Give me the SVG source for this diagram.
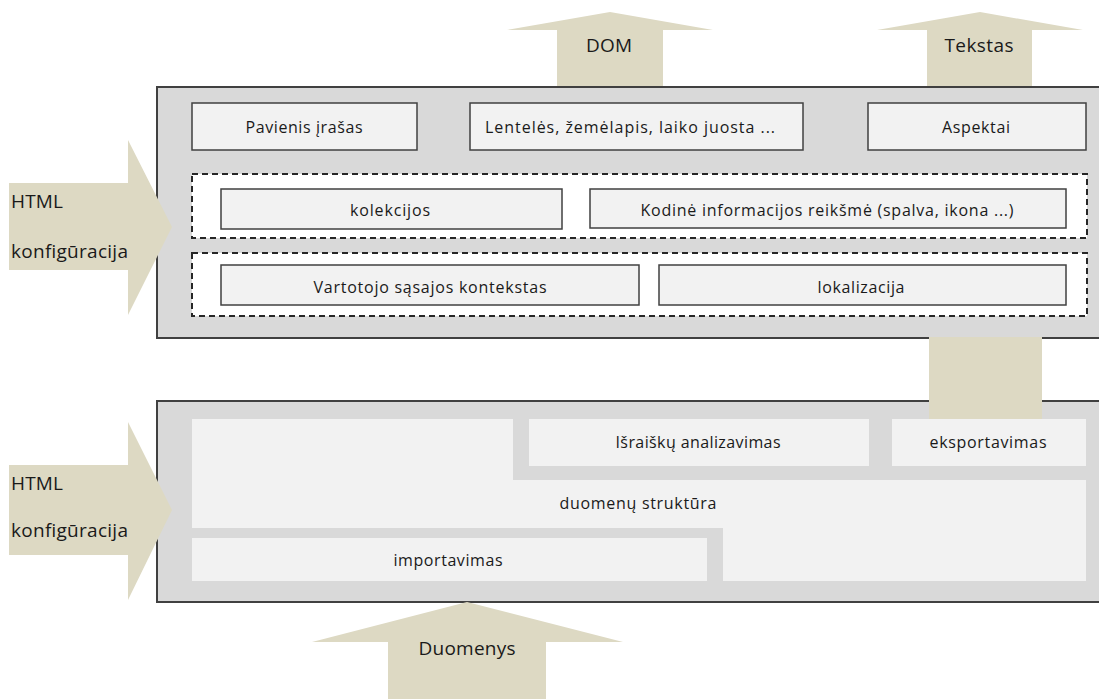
<svg xmlns="http://www.w3.org/2000/svg" width="1099" height="699" viewBox="0 0 1099 699">
  <style>
    .frame { fill: #d9d9d9; stroke: #404040; stroke-width: 2; }
    .cell { fill: #f2f2f2; stroke: #404040; stroke-width: 1.5; }
    .flat { fill: #f2f2f2; stroke: none; }
    .group { fill: #ffffff; stroke: #262626; stroke-width: 2; stroke-dasharray: 6 4; }
    .flow { fill: #ddd9c3; stroke: none; }
    text { font-family: "Open Sans", "Noto Sans", "Liberation Sans", sans-serif; fill: #1a1a1a; }
    .lbl { font-size: 16px; text-anchor: middle; dominant-baseline: central; }
    .big { font-size: 19px; dominant-baseline: central; }
    .bigc { font-size: 19px; text-anchor: middle; dominant-baseline: central; }
  </style>

  <!-- outputs leaving the presentation layer (drawn under the frame) -->
  <g id="connectors">
    <g id="arrow-dom">
      <polygon class="flow" points="557,87 557,30 507,30 610,12 713,30 663,30 663,87"/>
      <text class="bigc" x="609" y="45" textLength="46">DOM</text>
    </g>
    <g id="arrow-tekstas">
      <polygon class="flow" points="927,87 927,30 877,30 980,12 1083,30 1032,30 1032,87"/>
      <text class="bigc" x="979" y="45" textLength="69">Tekstas</text>
    </g>
  </g>

  <!-- presentation layer -->
  <g id="layer-top">
    <rect class="frame" x="157" y="87" width="950" height="251"/>
    <g id="pavienis">
      <rect class="cell" x="192" y="103" width="225" height="47"/>
      <text class="lbl" x="304" y="127" textLength="117">Pavienis įrašas</text>
    </g>
    <g id="lenteles">
      <rect class="cell" x="470" y="103" width="333" height="47"/>
      <text class="lbl" x="630" y="127" textLength="290">Lentelės, žemėlapis, laiko juosta ...</text>
    </g>
    <g id="aspektai">
      <rect class="cell" x="868" y="103" width="218" height="47"/>
      <text class="lbl" x="976" y="127" textLength="68">Aspektai</text>
    </g>
    <g id="group-kolekcijos">
      <rect class="group" x="192" y="174" width="895" height="64"/>
      <g id="kolekcijos">
        <rect class="cell" x="221" y="189" width="341" height="40"/>
        <text class="lbl" x="390" y="210" textLength="80">kolekcijos</text>
      </g>
      <g id="kodine">
        <rect class="cell" x="590" y="189" width="476" height="39"/>
        <text class="lbl" x="827" y="210" textLength="373">Kodinė informacijos reikšmė (spalva, ikona ...)</text>
      </g>
    </g>
    <g id="group-kontekstas">
      <rect class="group" x="192" y="253" width="895" height="63"/>
      <g id="kontekstas">
        <rect class="cell" x="221" y="265" width="418" height="40"/>
        <text class="lbl" x="430" y="287" textLength="233">Vartotojo sąsajos kontekstas</text>
      </g>
      <g id="lokalizacija">
        <rect class="cell" x="659" y="265" width="407" height="40"/>
        <text class="lbl" x="861" y="287" textLength="87">lokalizacija</text>
      </g>
    </g>
  </g>

  <!-- data layer -->
  <g id="layer-bottom">
    <rect class="frame" x="157" y="401" width="950" height="201"/>
    <g id="struktura">
      <polygon class="flat" points="192,419 513,419 513,480 1086,480 1086,581 723,581 723,528 192,528"/>
      <text class="lbl" x="638" y="503" textLength="157">duomenų struktūra</text>
    </g>
    <g id="israisku">
      <rect class="flat" x="529" y="419" width="340" height="47"/>
      <text class="lbl" x="698" y="442" textLength="165">Išraiškų analizavimas</text>
    </g>
    <g id="eksportavimas">
      <rect class="flat" x="892" y="419" width="194" height="47"/>
      <text class="lbl" x="988" y="442" textLength="117">eksportavimas</text>
    </g>
    <g id="importavimas">
      <rect class="flat" x="192" y="538" width="515" height="43"/>
      <text class="lbl" x="448" y="560" textLength="109">importavimas</text>
    </g>
  </g>

  <!-- inputs and the export link (drawn over the frames) -->
  <g id="connectors-over">
    <g id="link-export">
      <rect class="flow" x="929" y="337" width="113" height="82"/>
    </g>
    <g id="arrow-html-top">
      <polygon class="flow" points="9,183 128,183 128,140 172,227 128,315 128,270 9,270"/>
      <text class="big" x="11" y="201" textLength="52">HTML</text>
      <text class="big" x="11" y="251" textLength="117">konfigūracija</text>
    </g>
    <g id="arrow-html-bottom">
      <polygon class="flow" points="9,465 128,465 128,422 172,510 128,600 128,555 9,555"/>
      <text class="big" x="11" y="483" textLength="52">HTML</text>
      <text class="big" x="11" y="530" textLength="117">konfigūracija</text>
    </g>
    <g id="arrow-duomenys">
      <polygon class="flow" points="388,699 388,642 312,642 467,602 623,642 546,642 546,699"/>
      <text class="bigc" x="467" y="648" textLength="97">Duomenys</text>
    </g>
  </g>
</svg>
